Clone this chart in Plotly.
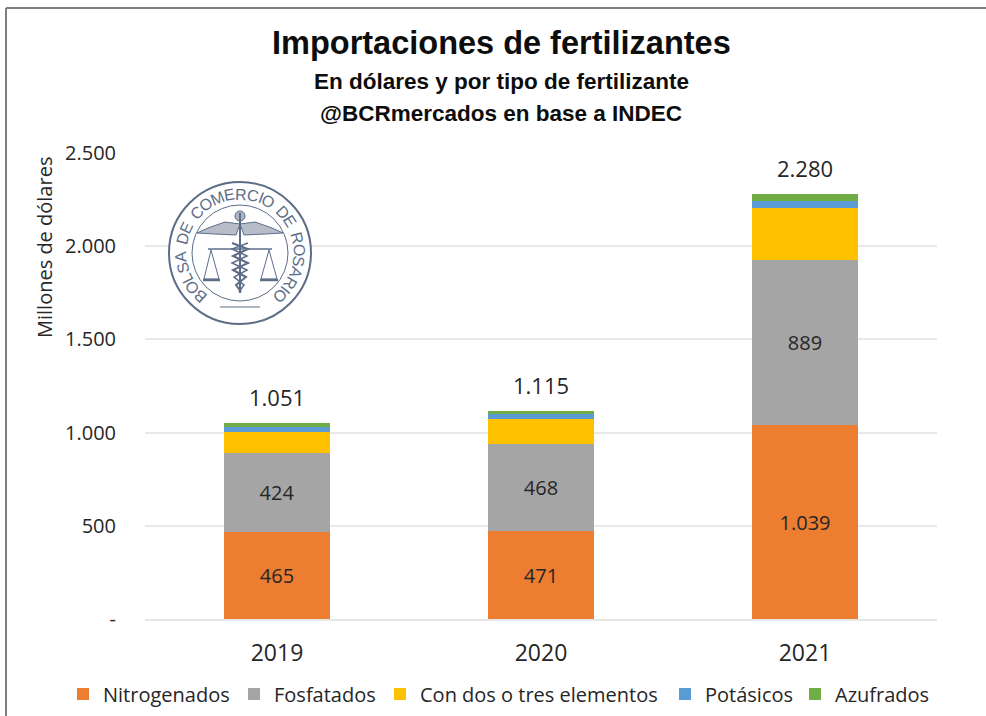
import math
import plotly.graph_objects as go

W, H = 986, 716
L, R, T, B = 145, 937, 153, 619

years = ["2019", "2020", "2021"]
nitrogenados = [465, 471, 1039]
fosfatados = [424, 468, 889]
con_dos_o_tres = [113, 134, 277]
potasicos = [28, 27, 39]
azufrados = [21, 15, 36]
totales = [1051, 1115, 2280]
tick_vals = [0, 500, 1000, 1500, 2000, 2500]
tick_text = ["-", "500", "1.000", "1.500", "2.000", "2.500"]

BODY = "Open Sans, Noto Sans, sans-serif"
TITLE = "Liberation Sans, Arial, sans-serif"
INK = "#262626"
SEAL = "#5d6d88"


def fmt(v):
    return f"{v:,}".replace(",", ".")


def px(x):
    return (x - L) / (R - L)


def py(y):
    return (B - y) / (B - T)


def path(points, close=False):
    s = "M " + " L ".join(f"{px(x):.5f},{py(y):.5f}" for x, y in points)
    return s + (" Z" if close else "")


fig = go.Figure()
series = [
    ("Nitrogenados", nitrogenados, "#ED7D31", True, 103),
    ("Fosfatados", fosfatados, "#A5A5A5", True, 274),
    ("Con dos o tres elementos", con_dos_o_tres, "#FFC000", False, 420),
    ("Potásicos", potasicos, "#5B9BD5", False, 705),
    ("Azufrados", azufrados, "#70AD47", False, 835),
]
legend_layouts = {}
for i, (name, vals, color, labelled, text_x) in enumerate(series):
    key = "legend" if i == 0 else f"legend{i + 1}"
    fig.add_trace(go.Bar(
        name=name, x=years, y=vals, marker=dict(color=color, line=dict(width=0)), legend=key, showlegend=True,
        text=[fmt(v) for v in vals] if labelled else None,
        textposition="inside" if labelled else "none",
        insidetextanchor="middle", constraintext="none", textangle=0,
        insidetextfont=dict(family=BODY, size=20, color=INK),
    ))
    legend_layouts[key] = dict(
        orientation="h", x=px(text_x - 40), xanchor="left", y=py(694), yanchor="middle",
        font=dict(family=BODY, size=20, color=INK), itemwidth=30, bgcolor="rgba(0,0,0,0)",
    )

shapes = []
annotations = []

for idx, total in enumerate(totales):
    annotations.append(dict(xref="x", yref="y", x=idx, y=total, yshift=26, text=fmt(total), showarrow=False,
                            xanchor="center", yanchor="middle", font=dict(family=BODY, size=22, color=INK)))

# Outer picture frame
shapes.append(dict(type="line", xref="paper", yref="paper", x0=px(6), x1=px(6), y0=py(8), y1=py(716),
                   line=dict(color="#7f7f7f", width=2)))
shapes.append(dict(type="line", xref="paper", yref="paper", x0=px(6), x1=px(986), y0=py(8), y1=py(8),
                   line=dict(color="#7f7f7f", width=2)))

# Seal
cx, cy = 240, 253


def circle(r, width, fill="rgba(0,0,0,0)", color=SEAL):
    shapes.append(dict(type="circle", xref="paper", yref="paper", x0=px(cx - r), x1=px(cx + r),
                       y0=py(cy - r), y1=py(cy + r), line=dict(color=color, width=width), fillcolor=fill))


circle(71, 2, fill="white")
circle(48, 1)

seal_text = "BOLSA DE COMERCIO DE ROSARIO"
advance = {"I": 0.45, " ": 0.6, "M": 1.25, "L": 0.85}
weights = [advance.get(ch, 1.0) for ch in seal_text]
span = 274
total_w = sum(weights) - (weights[0] + weights[-1]) / 2
pos = 0.0
for i, ch in enumerate(seal_text):
    if i:
        pos += (weights[i - 1] + weights[i]) / 2
    a = -span / 2 + pos / total_w * span
    rad = math.radians(a)
    annotations.append(dict(
        xref="paper", yref="paper", x=px(cx + 59 * math.sin(rad)), y=py(cy - 59 * math.cos(rad)),
        text=ch, showarrow=False, textangle=a, xanchor="center", yanchor="middle",
        font=dict(family=TITLE, size=16, color=SEAL),
    ))

seal_paths = [
    ([(240, 213), (240, 293)], False, 2),
    ([(240, 224), (225, 222), (208, 228), (197, 233), (215, 234), (236, 235)], True, 1),
    ([(240, 224), (255, 222), (272, 228), (283, 233), (265, 234), (244, 235)], True, 1),
    ([(208, 249), (272, 249)], False, 1.5),
    ([(211, 250), (204, 279), (219, 279), (211, 250)], False, 1),
    ([(203, 280), (220, 280)], False, 2.5),
    ([(269, 250), (261, 279), (277, 279), (269, 250)], False, 1),
    ([(260, 280), (278, 280)], False, 2.5),
    ([(232, 243), (248, 249), (233, 256), (248, 263), (233, 270), (246, 277), (236, 285), (241, 292)], False, 2),
    ([(248, 243), (232, 249), (247, 256), (232, 263), (247, 270), (234, 277), (244, 285), (239, 292)], False, 1.5),
    ([(220, 307), (260, 307)], False, 1),
]
for pts, closed, w in seal_paths:
    shapes.append(dict(type="path", xref="paper", yref="paper", path=path(pts, closed),
                       line=dict(color=SEAL, width=w),
                       fillcolor="rgba(93,109,136,0.45)" if closed else "rgba(0,0,0,0)"))
shapes.append(dict(type="circle", xref="paper", yref="paper", x0=px(235), x1=px(245), y0=py(211), y1=py(221),
                   line=dict(color=SEAL, width=1), fillcolor="rgba(93,109,136,0.5)"))

# Titles
for text, y, size in [("<b>Importaciones de fertilizantes</b>", 43, 32.5),
                      ("<b>En dólares y por tipo de fertilizante</b>", 81, 22.5),
                      ("<b>@BCRmercados en base a INDEC</b>", 114, 22.5)]:
    annotations.append(dict(xref="paper", yref="paper", x=px(501), y=py(y), text=text, showarrow=False,
                            xanchor="center", yanchor="middle", font=dict(family=TITLE, size=size, color="#0d0d0d")))

annotations.append(dict(xref="paper", yref="paper", x=px(44), y=py(248), text="Millones de dólares",
                        showarrow=False, textangle=-90, xanchor="center", yanchor="middle",
                        font=dict(family=BODY, size=20, color=INK)))

fig.update_layout(
    width=W, height=H, autosize=False, paper_bgcolor="white", plot_bgcolor="white",
    margin=dict(l=L, r=W - R, t=T, b=H - B, pad=0, autoexpand=False),
    barmode="stack", bargap=0.595, showlegend=True,
    shapes=shapes, annotations=annotations,
    xaxis=dict(type="category", range=[-0.5, 2.5], showgrid=False, showline=True, linecolor="#e6e6e6", linewidth=2,
               ticks="outside", ticklen=12, tickcolor="rgba(0,0,0,0)",
               tickfont=dict(family=BODY, size=23, color=INK)),
    yaxis=dict(range=[0, 2500], tickvals=tick_vals, ticktext=tick_text, showgrid=True, gridcolor="#e8e8e8",
               gridwidth=2, zeroline=False, ticks="outside", ticklen=24, tickcolor="rgba(0,0,0,0)",
               tickfont=dict(family=BODY, size=20, color=INK)),
    **legend_layouts,
)

fig.write_html("out.html", config={"displayModeBar": False},
               post_script="document.body.style.margin='0';document.body.style.overflow='hidden';")
